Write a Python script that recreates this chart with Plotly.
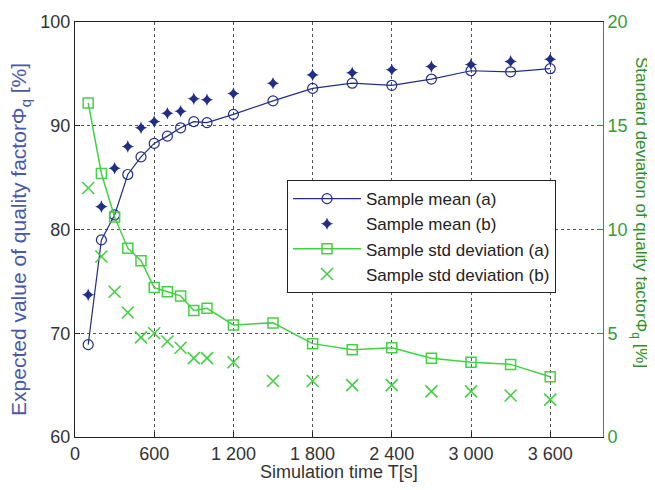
import plotly.graph_objects as go

t = [100, 200, 300, 400, 500, 600, 700, 800, 900, 1000, 1200, 1500, 1800, 2100, 2400, 2700, 3000, 3300, 3600]
mean_a = [68.9, 79.0, 81.4, 85.3, 87.0, 88.3, 89.0, 89.8, 90.4, 90.3, 91.1, 92.4, 93.6, 94.1, 93.9, 94.5, 95.3, 95.2, 95.5]
mean_b = [73.7, 82.2, 85.9, 88.0, 89.8, 90.4, 91.2, 91.4, 92.6, 92.5, 93.1, 94.1, 94.9, 95.1, 95.4, 95.7, 95.9, 96.2, 96.4]
std_a = [16.1, 12.7, 10.6, 9.1, 8.5, 7.2, 7.0, 6.8, 6.1, 6.2, 5.4, 5.5, 4.5, 4.2, 4.3, 3.8, 3.6, 3.5, 2.9]
std_b = [12.0, 8.7, 7.0, 6.0, 4.8, 5.0, 4.6, 4.3, 3.8, 3.8, 3.6, 2.7, 2.7, 2.5, 2.5, 2.2, 2.2, 2.0, 1.8]
x_ticks = [0, 600, 1200, 1800, 2400, 3000, 3600]
x_labels = ["0", "600", "1 200", "1 800", "2 400", "3 000", "3 600"]
y_ticks = [60, 70, 80, 90, 100]
y2_ticks = [0, 5, 10, 15, 20]

blue = "#222d88"
green = "#44d044"
font = "Liberation Sans, Arial, sans-serif"

fig = go.Figure()
fig.add_trace(go.Scatter(x=t, y=mean_a, mode="lines+markers", name="Sample mean (a)",
                         line=dict(color=blue, width=1.2),
                         marker=dict(symbol="circle-open", size=10, color=blue, line=dict(width=1.2))))
fig.add_trace(go.Scatter(x=t, y=mean_b, mode="markers", name="Sample mean (b)",
                         marker=dict(symbol="star-diamond", size=9, color=blue)))
fig.add_trace(go.Scatter(x=t, y=std_a, mode="lines+markers", name="Sample std deviation (a)", yaxis="y2",
                         line=dict(color=green, width=1.5),
                         marker=dict(symbol="square-open", size=10, color=green, line=dict(width=1.5))))
fig.add_trace(go.Scatter(x=t, y=std_b, mode="markers", name="Sample std deviation (b)", yaxis="y2",
                         marker=dict(symbol="x-thin-open", size=12, color=green, line=dict(width=1.6, color=green))))

fig.update_layout(
    width=647, height=482,
    margin=dict(l=67, r=52, t=14, b=53),
    paper_bgcolor="white", plot_bgcolor="white",
    font=dict(family=font, size=18, color="#333333"),
    showlegend=True,
    legend=dict(x=0.4015, y=0.619, xanchor="left", yanchor="top",
                bordercolor="#222222", borderwidth=1, bgcolor="white",
                font=dict(size=17, color="#222222"), tracegroupgap=0, itemwidth=68),
    xaxis=dict(range=[0, 4000], tickvals=x_ticks, ticktext=x_labels, automargin=False,
               showgrid=True, gridcolor="#555555", griddash="dot", gridwidth=1,
               showline=True, linecolor="#222222", linewidth=1, mirror=True,
               ticks="inside", ticklen=5, tickcolor="#222222",
               tickfont=dict(size=18, color="#333333"), zeroline=False),
    yaxis=dict(range=[60, 100], tickvals=y_ticks, automargin=False,
               showgrid=True, gridcolor="#555555", griddash="dot", gridwidth=1,
               showline=True, linecolor="#222222", linewidth=1,
               ticks="inside", ticklen=5, tickcolor="#222222",
               tickfont=dict(size=18, color="#333333"), zeroline=False),
    yaxis2=dict(range=[0, 20], tickvals=y2_ticks, overlaying="y", side="right", automargin=False,
                showgrid=False, showline=True, linecolor="#2a9a2a", linewidth=1,
                ticks="inside", ticklen=5, tickcolor="#2a9a2a",
                tickfont=dict(size=18, color="#3a9a3a"), zeroline=False),
    annotations=[
        dict(text="Simulation time T[s]", xref="paper", yref="paper", x=0.5, y=-0.084,
             xanchor="center", yanchor="middle", showarrow=False,
             font=dict(size=18, color="#333333")),
        dict(text="Expected value of quality factorΦ<sub>q</sub> [%]", xref="paper", yref="paper",
             x=-0.104, y=0.475, xanchor="center", yanchor="middle", textangle=-90, showarrow=False,
             font=dict(size=21, color="#4a58a8")),
        dict(text="Standard deviation of quality factorΦ<sub>q</sub> [%]", xref="paper", yref="paper",
             x=1.07, y=0.54, xanchor="center", yanchor="middle", textangle=90, showarrow=False,
             font=dict(size=17, color="#2f8f2f")),
    ],
)

fig.write_html("out.html")
